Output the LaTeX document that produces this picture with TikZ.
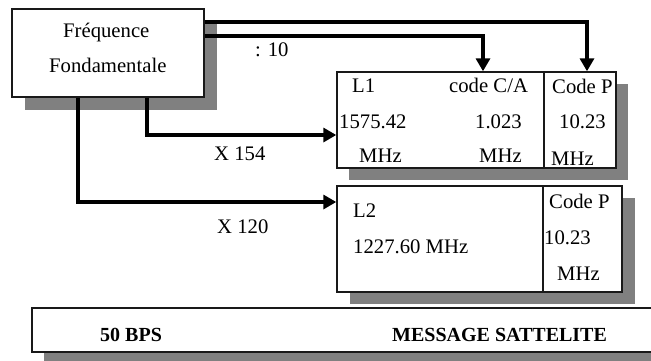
\documentclass[tikz,border=0pt]{standalone}
\usepackage{fontspec}
\setmainfont{Liberation Serif}
\usetikzlibrary{arrows.meta}
\begin{document}
\begin{tikzpicture}[x=1pt,y=-1pt,
  box/.style={draw=black!90, line width=1.4pt, fill=white, rectangle, inner sep=0pt},
  shadowfill/.style={fill=black!50, draw=none},
  conn/.style={line width=4pt, -{Triangle[length=13pt,width=14pt]}},
  txt/.style={anchor=base west, inner sep=0pt, font=\fontsize{20.7}{24}\selectfont},
  btxt/.style={anchor=base west, inner sep=0pt, font=\fontsize{20}{24}\selectfont\bfseries}]
\useasboundingbox (0,0) rectangle (651,360);
% shadows
\fill[shadowfill] (25,22) rectangle (217,110);
\fill[shadowfill] (349,84) rectangle (628,180);
\fill[shadowfill] (350,198) rectangle (635,304);
\fill[shadowfill] (44,320) rectangle (680,370);
% boxes
\node[box, minimum width=192pt, minimum height=88pt] (f) at (108,53) {};
\node[box, minimum width=279pt, minimum height=96pt] (l1) at (476.5,120) {};
\node[box, minimum width=285pt, minimum height=106pt] (l2) at (479.5,239) {};
\node[box, minimum width=640pt, minimum height=44pt] (msg) at (352,330) {};
\draw[draw=black!90, line width=1.2pt] (l1.north -| 544,0) -- (l1.south -| 544,0);
\draw[draw=black!90, line width=1.2pt] (l2.north -| 543,0) -- (l2.south -| 543,0);
% connectors
\draw[conn] (f.east |- 0,22) -| (l1.north -| 587,0);
\draw[conn] (f.east |- 0,36) -| (l1.north -| 483,0);
\draw[conn] (f.south -| 147,0) |- (l1.west |- 0,135);
\draw[conn] (f.south -| 78,0) |- (l2.west |- 0,202);
% texts
\node[txt] (t1) at (63,37) {Fréquence};
\node[txt] (t2) at (49,72) {Fondamentale};
\node[txt] (t3) at (255,56) {: 10};
\node[txt] (t4) at (214,160) {X 154};
\node[txt] (t5) at (217,233) {X 120};
\node[txt] (a1) at (352,92) {L1};
\node[txt] (a2) at (449,92) {code C/A};
\node[txt] (a3) at (552,93) {Code P};
\node[txt] (a4) at (339,128) {1575.42};
\node[txt] (a5) at (475,128) {1.023};
\node[txt] (a6) at (559,128) {10.23};
\node[txt] (a7) at (359,162) {MHz};
\node[txt] (a8) at (479,162) {MHz};
\node[txt] (a9) at (551,165) {MHz};
\node[txt] (b1) at (353,217) {L2};
\node[txt] (b2) at (353,253) {1227.60 MHz};
\node[txt] (b3) at (549,208) {Code P};
\node[txt] (b4) at (544,244) {10.23};
\node[txt] (b5) at (557,280) {MHz};
\node[btxt] (m1) at (100,341) {50 BPS};
\node[btxt] (m2) at (392,341) {MESSAGE SATTELITE};
\end{tikzpicture}
\end{document}
